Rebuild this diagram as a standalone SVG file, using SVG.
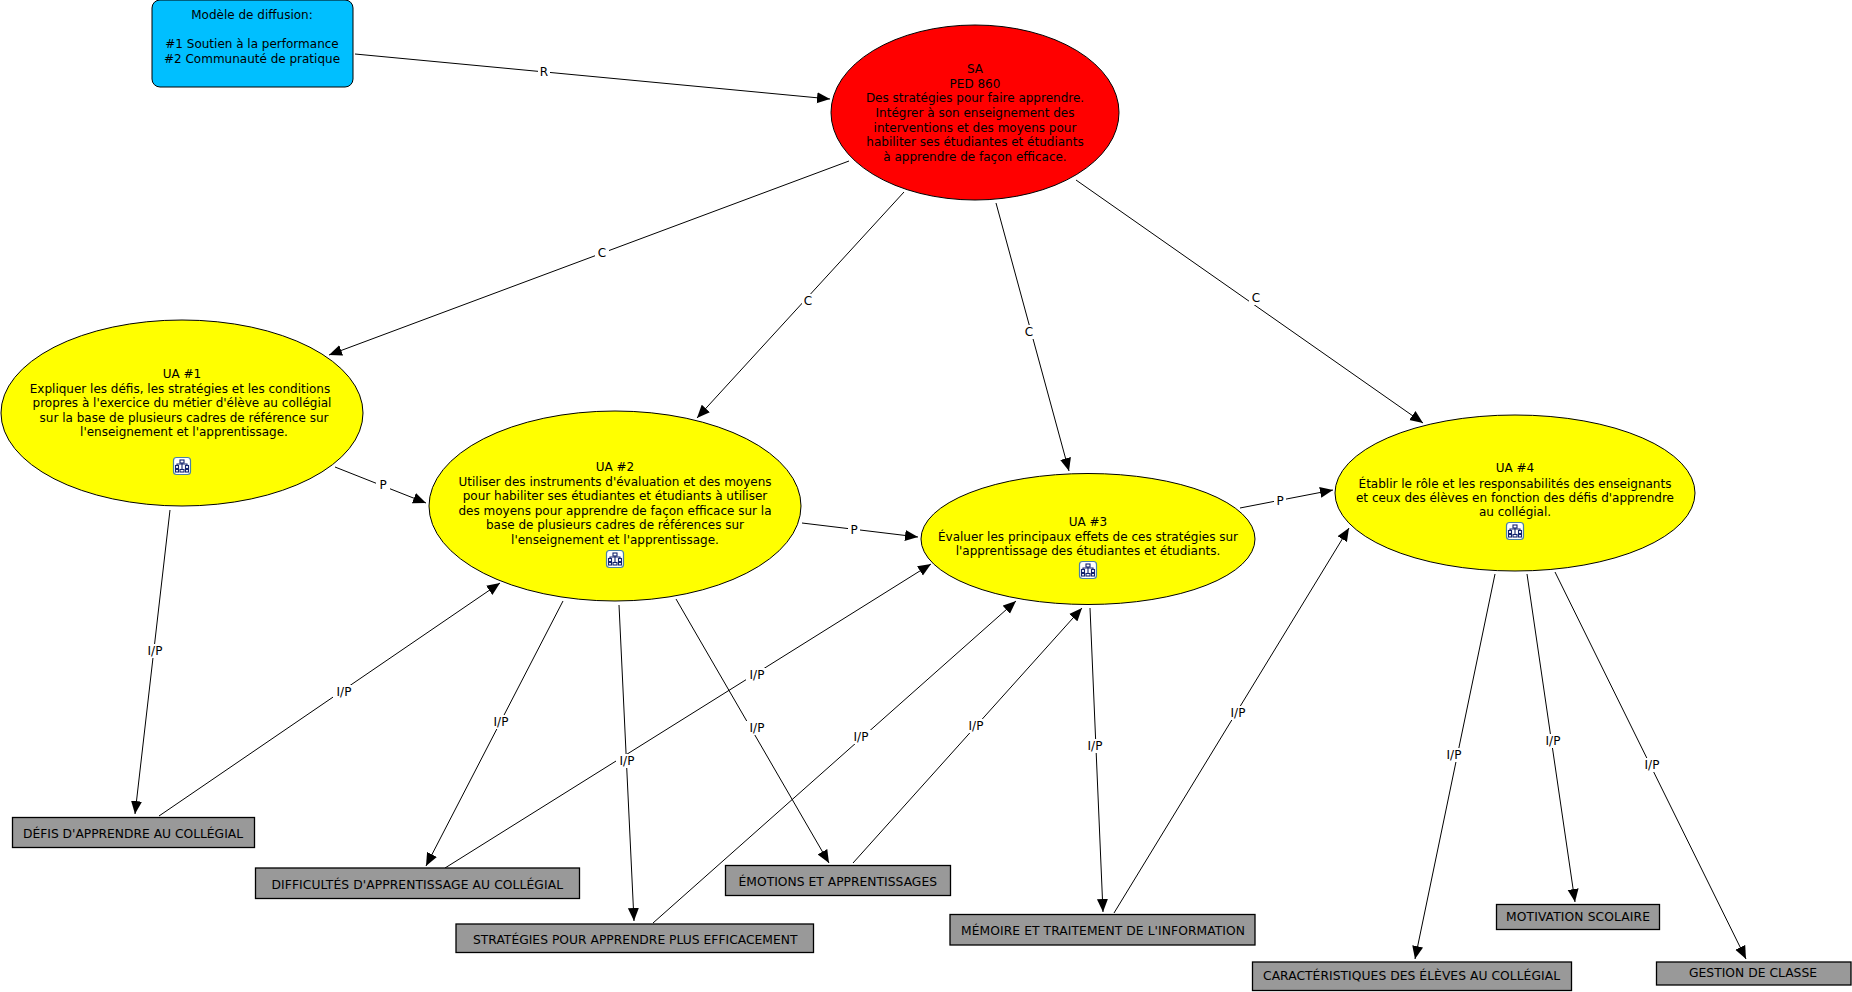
<svg xmlns="http://www.w3.org/2000/svg" width="1852" height="992" viewBox="0 0 1852 992">
<style>
text{font-family:"DejaVu Sans",Verdana,sans-serif;font-size:12px;fill:#000;text-anchor:middle}
.u{font-size:12.300px;text-anchor:start}
.g{fill:#999;stroke:#000;stroke-width:1.300}
.y{fill:#ff0;stroke:#000;stroke-width:1}
.c line{stroke:#000;stroke-width:1;marker-end:url(#a)}
.l rect{fill:#fff}
</style>
<defs>
<marker id="a" markerUnits="userSpaceOnUse" markerWidth="14" markerHeight="12" refX="13" refY="6" orient="auto"><path d="M0 .5L13 6L0 11.500Z" fill="#000"/></marker>
<g id="i"><rect x="-8.500" y="-8.500" width="17" height="17" rx="3" fill="#fff" stroke="#4a80a8" stroke-width="1.200"/><g fill="none" stroke="#14246e" stroke-width="1.100"><rect x="-2" y="-6" width="4" height="3"/><rect x="-6.500" y="-.5" width="3" height="3"/><rect x="3.500" y="-.5" width="3" height="3"/><rect x="-6.500" y="3.500" width="3" height="2.500"/><rect x="-2" y="3.500" width="4" height="2.500"/><rect x="3.500" y="3.500" width="3" height="2.500"/><path d="M0-3V3.500M-5-.5V-2H5V-.5"/></g></g>
</defs>
<g id="connectors" class="c">
<line x1="355" y1="54" x2="830" y2="99"/>
<line x1="849" y1="161" x2="329" y2="355"/>
<line x1="904" y1="192" x2="697" y2="418"/>
<line x1="996" y1="203" x2="1069" y2="471"/>
<line x1="1076" y1="180" x2="1423" y2="423"/>
<line x1="335" y1="467" x2="426" y2="503"/>
<line x1="802" y1="523" x2="918" y2="537"/>
<line x1="1240" y1="508" x2="1333" y2="490"/>
<line x1="170" y1="510" x2="135" y2="814"/>
<line x1="159" y1="816" x2="500" y2="583"/>
<line x1="563" y1="601" x2="426" y2="866"/>
<line x1="445" y1="868" x2="931" y2="564"/>
<line x1="619" y1="605" x2="634" y2="921"/>
<line x1="653" y1="923" x2="1016" y2="601"/>
<line x1="676" y1="599" x2="829" y2="863"/>
<line x1="853" y1="863" x2="1082" y2="608"/>
<line x1="1090" y1="608" x2="1103" y2="912"/>
<line x1="1114" y1="913" x2="1349" y2="528"/>
<line x1="1495" y1="574" x2="1415" y2="959"/>
<line x1="1527" y1="574" x2="1575" y2="902"/>
<line x1="1555" y1="572" x2="1746" y2="959"/>
</g>
<g id="connector-labels" class="l">
<rect x="538" y="65" width="12" height="14"/><text x="544" y="76">R</text>
<rect x="595" y="246" width="14" height="14"/><text x="602" y="257">C</text>
<rect x="802" y="294" width="12" height="14"/><text x="808" y="305">C</text>
<rect x="1023" y="325" width="12" height="14"/><text x="1029" y="336">C</text>
<rect x="1249" y="291" width="14" height="14"/><text x="1256" y="302">C</text>
<rect x="376" y="478" width="14" height="14"/><text x="383" y="489">P</text>
<rect x="848" y="523" width="12" height="14"/><text x="854" y="534">P</text>
<rect x="1274" y="494" width="12" height="14"/><text x="1280" y="505">P</text>
<rect x="144" y="644" width="22" height="14"/><text x="155" y="655">I/P</text>
<rect x="333" y="685" width="22" height="14"/><text x="344" y="696">I/P</text>
<rect x="490" y="715" width="22" height="14"/><text x="501" y="726">I/P</text>
<rect x="746" y="668" width="22" height="14"/><text x="757" y="679">I/P</text>
<rect x="616" y="754" width="22" height="14"/><text x="627" y="765">I/P</text>
<rect x="850" y="730" width="22" height="14"/><text x="861" y="741">I/P</text>
<rect x="746" y="721" width="22" height="14"/><text x="757" y="732">I/P</text>
<rect x="965" y="719" width="22" height="14"/><text x="976" y="730">I/P</text>
<rect x="1084" y="739" width="22" height="14"/><text x="1095" y="750">I/P</text>
<rect x="1227" y="706" width="22" height="14"/><text x="1238" y="717">I/P</text>
<rect x="1443" y="748" width="22" height="14"/><text x="1454" y="759">I/P</text>
<rect x="1542" y="734" width="22" height="14"/><text x="1553" y="745">I/P</text>
<rect x="1641" y="758" width="22" height="14"/><text x="1652" y="769">I/P</text>
</g>
<g id="modele"><rect x="152" y="0" width="201" height="87" rx="8" fill="#00bfff" stroke="#000" stroke-width="1"/>
<text x="252" y="19">Modèle de diffusion:</text><text x="252" y="48">#1 Soutien à la performance</text><text x="252" y="63">#2 Communauté de pratique</text></g>
<g id="sa"><ellipse cx="975" cy="112.500" rx="144" ry="87.500" fill="#f00" stroke="#000" stroke-width="1"/>
<text x="975" y="73">SA</text><text x="975" y="87.500">PED 860</text><text x="975" y="102">Des stratégies pour faire apprendre.</text><text x="975" y="117">Intégrer à son enseignement des</text><text x="975" y="131.500">interventions et des moyens pour</text><text x="975" y="146">habiliter ses étudiantes et étudiants</text><text x="975" y="160.500">à apprendre de façon efficace.</text></g>
<g id="ua1"><ellipse class="y" cx="182" cy="413" rx="181" ry="93"/>
<text x="182" y="378">UA #1</text><text x="180" y="392.500">Expliquer les défis, les stratégies et les conditions</text><text x="182" y="407">propres à l'exercice du métier d'élève au collégial</text><text x="184" y="421.500">sur la base de plusieurs cadres de référence sur</text><text x="184" y="436">l'enseignement et l'apprentissage.</text><use href="#i" x="182" y="466"/></g>
<g id="ua2"><ellipse class="y" cx="615" cy="506" rx="186" ry="95"/>
<text x="615" y="471">UA #2</text><text x="615" y="485.500">Utiliser des instruments d'évaluation et des moyens</text><text x="615" y="500">pour habiliter ses étudiantes et étudiants à utiliser</text><text x="615" y="514.500">des moyens pour apprendre de façon efficace sur la</text><text x="615" y="529">base de plusieurs cadres de références sur</text><text x="615" y="543.500">l'enseignement et l'apprentissage.</text><use href="#i" x="615" y="559"/></g>
<g id="ua3"><ellipse class="y" cx="1088" cy="539" rx="167" ry="65.500"/>
<text x="1088" y="526">UA #3</text><text x="1088" y="540.500">Évaluer les principaux effets de ces stratégies sur</text><text x="1088" y="555">l'apprentissage des étudiantes et étudiants.</text><use href="#i" x="1088" y="570"/></g>
<g id="ua4"><ellipse class="y" cx="1515" cy="493" rx="180" ry="78"/>
<text x="1515" y="472">UA #4</text><text x="1515" y="487.500">Établir le rôle et les responsabilités des enseignants</text><text x="1515" y="502">et ceux des élèves en fonction des défis d'apprendre</text><text x="1515" y="516">au collégial.</text><use href="#i" x="1515" y="531"/></g>
<g id="defis"><rect class="g" x="12.500" y="817.500" width="242" height="30"/><text class="u" x="23" y="838" textLength="220" lengthAdjust="spacing">DÉFIS D'APPRENDRE AU COLLÉGIAL</text></g>
<g id="difficultes"><rect class="g" x="255.500" y="868" width="324" height="30.500"/><text class="u" x="271.500" y="889" textLength="291.500" lengthAdjust="spacing">DIFFICULTÉS D'APPRENTISSAGE AU COLLÉGIAL</text></g>
<g id="strategies"><rect class="g" x="456" y="924" width="357.500" height="28.500"/><text class="u" x="473" y="944" textLength="324.500" lengthAdjust="spacing">STRATÉGIES POUR APPRENDRE PLUS EFFICACEMENT</text></g>
<g id="emotions"><rect class="g" x="725.500" y="865.500" width="225" height="30"/><text class="u" x="738.500" y="886" textLength="198.500" lengthAdjust="spacing">ÉMOTIONS ET APPRENTISSAGES</text></g>
<g id="memoire"><rect class="g" x="950" y="914.500" width="305" height="30.500"/><text class="u" x="961" y="934.500" textLength="284" lengthAdjust="spacing">MÉMOIRE ET TRAITEMENT DE L'INFORMATION</text></g>
<g id="caracteristiques"><rect class="g" x="1252.500" y="962" width="319" height="28.500"/><text class="u" x="1263" y="980" textLength="297" lengthAdjust="spacing">CARACTÉRISTIQUES DES ÉLÈVES AU COLLÉGIAL</text></g>
<g id="motivation"><rect class="g" x="1496.500" y="904.500" width="163" height="25"/><text class="u" x="1506" y="921" textLength="144" lengthAdjust="spacing">MOTIVATION SCOLAIRE</text></g>
<g id="gestion"><rect class="g" x="1656.500" y="962" width="194.500" height="23"/><text class="u" x="1689" y="977" textLength="128" lengthAdjust="spacing">GESTION DE CLASSE</text></g>
</svg>
